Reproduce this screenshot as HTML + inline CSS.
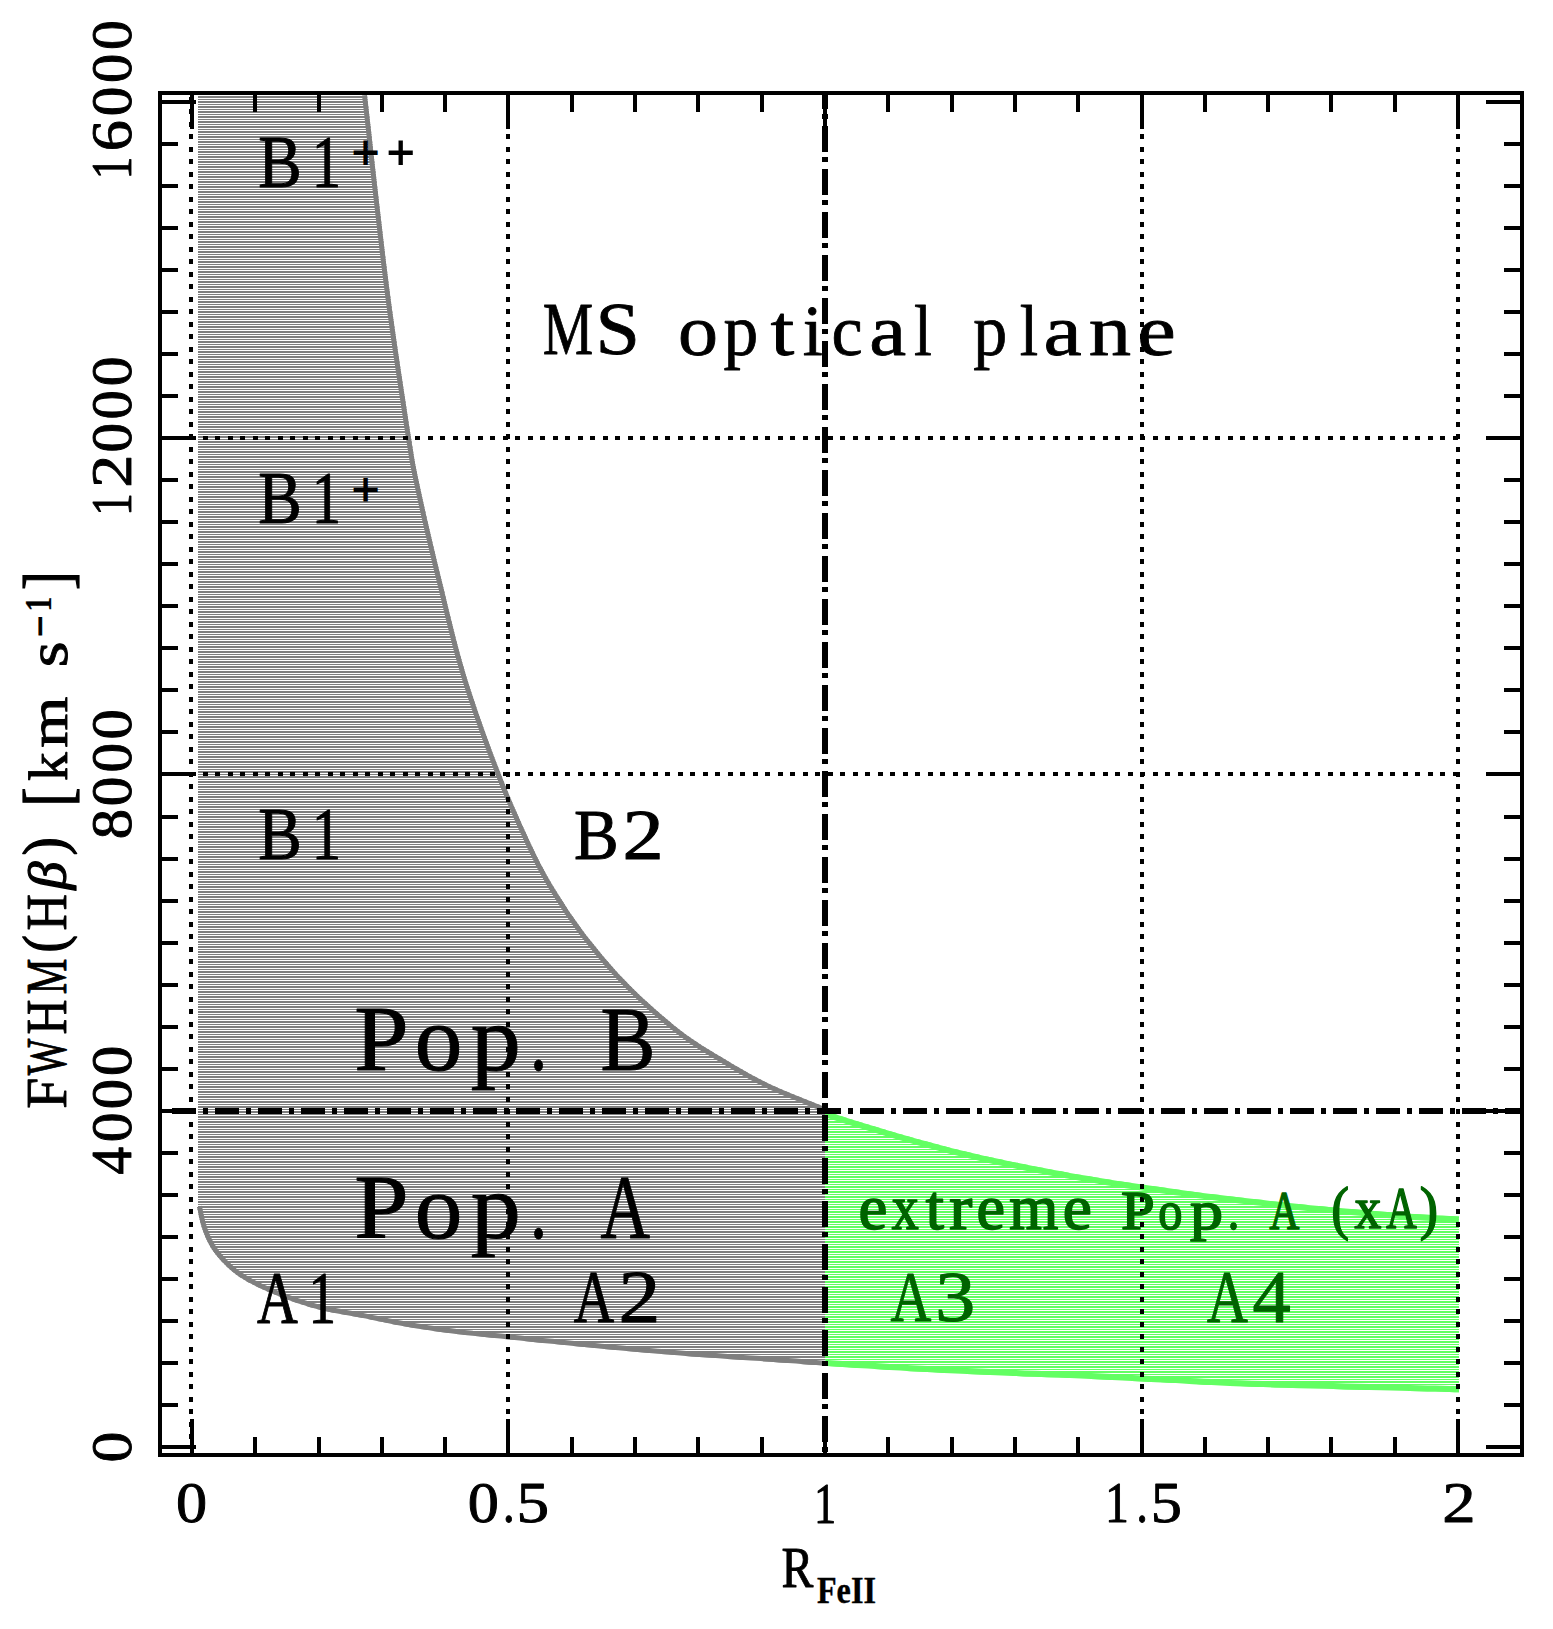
<!DOCTYPE html>
<html lang="en"><head><meta charset="utf-8"><title>MS optical plane</title>
<style>html,body{margin:0;padding:0;background:#fff}svg{display:block}text{font-family:"Liberation Serif","DejaVu Serif",serif;stroke-linejoin:round}</style></head><body>
<svg width="1553" height="1629" viewBox="0 0 1553 1629">
<defs>
<pattern id="hg" x="0" y="96" width="8" height="5" patternUnits="userSpaceOnUse"><rect width="8" height="2" fill="#7f7f7f"/><rect y="3" width="8" height="1" fill="#7f7f7f"/></pattern>
<pattern id="hv" x="0" y="96" width="8" height="5" patternUnits="userSpaceOnUse"><rect width="8" height="2" fill="#62ff62"/><rect y="3" width="8" height="1" fill="#62ff62"/></pattern>
<clipPath id="cg"><polygon points="198.0,95.0 367.0,95.0 368.7,110.0 371.0,130.4 373.6,154.6 376.6,181.3 379.8,209.2 383.0,237.0 386.1,263.2 389.0,286.5 391.8,308.0 394.8,329.5 397.8,350.5 400.8,370.8 403.7,390.0 406.4,407.8 408.8,423.8 411.0,437.7 412.7,448.7 414.0,456.9 415.0,463.0 415.9,467.8 416.8,472.1 417.7,476.7 419.0,482.4 420.6,490.0 422.6,499.2 424.8,509.2 427.2,519.9 429.8,531.1 432.5,542.7 435.3,554.4 438.1,566.3 441.0,578.0 443.9,589.8 446.8,601.9 449.7,614.1 452.8,626.6 455.9,639.1 459.2,651.6 462.7,664.0 466.3,676.4 470.2,688.8 474.4,701.5 478.7,714.2 483.2,726.9 487.7,739.5 492.2,751.7 496.7,763.4 501.0,774.6 505.2,785.3 509.5,795.8 513.8,805.9 518.0,815.6 522.2,825.0 526.2,833.8 530.1,842.2 533.8,850.0 537.2,857.1 540.4,863.4 543.4,869.1 546.3,874.4 549.2,879.5 552.1,884.5 555.2,889.6 558.6,895.0 562.2,900.6 565.8,906.2 569.5,911.9 573.4,917.5 577.3,923.1 581.4,928.7 585.6,934.4 590.0,940.0 594.5,945.6 599.1,951.3 603.8,956.9 608.6,962.6 613.6,968.2 618.7,973.9 624.1,979.6 629.6,985.2 635.4,991.0 641.6,996.9 648.0,1002.8 654.6,1008.7 661.2,1014.5 667.8,1020.1 674.2,1025.4 680.3,1030.3 686.2,1034.7 692.0,1038.8 697.6,1042.6 703.2,1046.2 708.7,1049.6 714.3,1053.0 719.8,1056.3 725.4,1059.6 731.0,1062.9 736.5,1066.2 741.9,1069.3 747.4,1072.4 752.9,1075.5 758.6,1078.5 764.4,1081.4 770.5,1084.4 777.2,1087.5 784.7,1090.7 792.6,1094.0 800.6,1097.2 808.1,1100.3 815.0,1103.0 820.7,1105.3 825.0,1107.0 825.0,1365.8 821.0,1365.5 816.1,1365.1 810.1,1364.7 803.4,1364.2 796.0,1363.6 787.9,1363.1 779.4,1362.4 770.5,1361.8 760.9,1361.1 750.4,1360.4 739.2,1359.7 727.5,1358.9 715.5,1358.1 703.4,1357.2 691.5,1356.4 680.0,1355.5 668.7,1354.6 657.5,1353.7 646.2,1352.7 635.0,1351.7 623.7,1350.7 612.5,1349.7 601.2,1348.7 590.0,1347.6 578.5,1346.5 566.6,1345.3 554.5,1344.1 542.5,1342.9 530.8,1341.7 519.7,1340.5 509.3,1339.5 500.0,1338.5 491.8,1337.7 484.7,1337.0 478.2,1336.3 472.4,1335.8 466.9,1335.2 461.5,1334.6 456.1,1334.0 450.4,1333.3 444.6,1332.5 438.8,1331.8 433.2,1331.0 427.6,1330.1 422.1,1329.3 416.6,1328.4 411.0,1327.5 405.4,1326.5 399.7,1325.5 394.1,1324.4 388.4,1323.3 382.7,1322.1 377.0,1321.0 371.3,1319.8 365.7,1318.6 360.0,1317.5 354.4,1316.4 348.7,1315.4 343.1,1314.4 337.5,1313.4 331.9,1312.4 326.2,1311.2 320.6,1310.0 315.0,1308.5 309.3,1306.9 303.5,1305.1 297.6,1303.2 291.8,1301.2 286.0,1299.1 280.5,1297.0 275.1,1294.8 270.0,1292.7 265.2,1290.6 260.5,1288.5 256.0,1286.3 251.7,1284.1 247.6,1281.9 243.7,1279.6 239.9,1277.2 236.3,1274.7 232.9,1272.1 229.6,1269.3 226.6,1266.5 223.7,1263.6 220.9,1260.7 218.4,1257.8 216.0,1254.9 213.8,1252.0 211.8,1249.2 210.1,1246.4 208.5,1243.6 207.1,1240.8 205.8,1238.0 204.7,1235.2 203.6,1232.4 202.5,1229.6 201.5,1226.6 200.6,1223.4 199.8,1220.1 199.0,1216.9 198.4,1213.8 197.9,1211.1 197.4,1208.7 197.0,1207.0 198.0,1207.0"/></clipPath>
<clipPath id="cv"><polygon points="825.0,1111.0 830.8,1112.8 838.6,1115.2 847.9,1118.2 858.3,1121.4 869.1,1124.7 880.0,1128.1 890.5,1131.2 900.0,1134.0 908.8,1136.5 917.5,1138.9 926.0,1141.3 934.4,1143.5 942.7,1145.7 951.0,1147.9 959.4,1150.0 967.8,1152.0 976.3,1154.0 984.7,1155.9 993.2,1157.8 1001.6,1159.6 1010.1,1161.4 1018.5,1163.1 1027.0,1164.8 1035.4,1166.5 1043.9,1168.1 1052.5,1169.8 1061.2,1171.3 1069.9,1172.9 1078.4,1174.4 1086.8,1175.8 1095.1,1177.2 1103.0,1178.5 1110.6,1179.7 1117.9,1180.9 1125.0,1182.0 1132.0,1183.0 1138.9,1184.0 1145.8,1185.0 1152.8,1186.0 1160.0,1187.0 1167.1,1188.0 1174.1,1189.0 1180.9,1189.9 1187.9,1190.9 1195.1,1191.9 1202.8,1192.9 1211.0,1193.9 1220.0,1195.0 1229.8,1196.2 1240.4,1197.5 1251.6,1198.8 1263.3,1200.1 1275.1,1201.5 1287.0,1202.8 1298.8,1204.0 1310.3,1205.2 1321.8,1206.3 1333.6,1207.4 1345.5,1208.5 1357.4,1209.5 1369.0,1210.5 1380.2,1211.4 1390.7,1212.2 1400.5,1213.0 1409.7,1213.7 1418.7,1214.3 1427.3,1214.8 1435.4,1215.2 1442.7,1215.6 1449.2,1216.0 1454.7,1216.3 1459.0,1216.5 1459.0,1392.3 1454.7,1392.2 1449.2,1392.0 1442.8,1391.8 1435.4,1391.6 1427.4,1391.4 1418.7,1391.2 1409.7,1390.9 1400.5,1390.7 1390.7,1390.5 1380.1,1390.2 1368.9,1390.0 1357.2,1389.7 1345.3,1389.4 1333.3,1389.1 1321.5,1388.8 1310.0,1388.5 1298.5,1388.2 1286.8,1387.8 1274.9,1387.4 1263.1,1387.1 1251.5,1386.7 1240.4,1386.3 1229.8,1385.9 1220.0,1385.5 1211.2,1385.1 1203.3,1384.7 1196.2,1384.3 1189.3,1383.9 1182.6,1383.6 1175.7,1383.1 1168.2,1382.7 1160.0,1382.3 1151.1,1381.9 1141.8,1381.4 1132.1,1380.9 1122.2,1380.4 1112.0,1379.9 1101.6,1379.4 1091.1,1379.0 1080.5,1378.5 1069.7,1378.1 1058.6,1377.6 1047.3,1377.2 1035.9,1376.8 1024.4,1376.4 1012.8,1375.9 1001.4,1375.5 990.0,1375.0 978.6,1374.5 967.1,1374.0 955.6,1373.4 944.0,1372.9 932.6,1372.3 921.4,1371.7 910.5,1371.2 900.0,1370.6 889.4,1370.0 878.4,1369.3 867.5,1368.6 856.9,1367.9 847.0,1367.3 838.1,1366.7 830.7,1366.2 825.0,1365.8"/></clipPath>
</defs>
<rect width="1553" height="1629" fill="#fff"/>
<!-- shaded Pop. A / Pop. B region -->
<g clip-path="url(#cg)"><rect x="190" y="90" width="640" height="1290" fill="url(#hg)" shape-rendering="crispEdges"/>
<polyline points="367.0,95.0 368.7,110.0 371.0,130.4 373.6,154.6 376.6,181.3 379.8,209.2 383.0,237.0 386.1,263.2 389.0,286.5 391.8,308.0 394.8,329.5 397.8,350.5 400.8,370.8 403.7,390.0 406.4,407.8 408.8,423.8 411.0,437.7 412.7,448.7 414.0,456.9 415.0,463.0 415.9,467.8 416.8,472.1 417.7,476.7 419.0,482.4 420.6,490.0 422.6,499.2 424.8,509.2 427.2,519.9 429.8,531.1 432.5,542.7 435.3,554.4 438.1,566.3 441.0,578.0 443.9,589.8 446.8,601.9 449.7,614.1 452.8,626.6 455.9,639.1 459.2,651.6 462.7,664.0 466.3,676.4 470.2,688.8 474.4,701.5 478.7,714.2 483.2,726.9 487.7,739.5 492.2,751.7 496.7,763.4 501.0,774.6 505.2,785.3 509.5,795.8 513.8,805.9 518.0,815.6 522.2,825.0 526.2,833.8 530.1,842.2 533.8,850.0 537.2,857.1 540.4,863.4 543.4,869.1 546.3,874.4 549.2,879.5 552.1,884.5 555.2,889.6 558.6,895.0 562.2,900.6 565.8,906.2 569.5,911.9 573.4,917.5 577.3,923.1 581.4,928.7 585.6,934.4 590.0,940.0 594.5,945.6 599.1,951.3 603.8,956.9 608.6,962.6 613.6,968.2 618.7,973.9 624.1,979.6 629.6,985.2 635.4,991.0 641.6,996.9 648.0,1002.8 654.6,1008.7 661.2,1014.5 667.8,1020.1 674.2,1025.4 680.3,1030.3 686.2,1034.7 692.0,1038.8 697.6,1042.6 703.2,1046.2 708.7,1049.6 714.3,1053.0 719.8,1056.3 725.4,1059.6 731.0,1062.9 736.5,1066.2 741.9,1069.3 747.4,1072.4 752.9,1075.5 758.6,1078.5 764.4,1081.4 770.5,1084.4 777.2,1087.5 784.7,1090.7 792.6,1094.0 800.6,1097.2 808.1,1100.3 815.0,1103.0 820.7,1105.3 825.0,1107.0" fill="none" stroke="#7f7f7f" stroke-width="10"/>
<polyline points="197.0,1207.0 197.4,1208.7 197.9,1211.1 198.4,1213.8 199.0,1216.9 199.8,1220.1 200.6,1223.4 201.5,1226.6 202.5,1229.6 203.6,1232.4 204.7,1235.2 205.8,1238.0 207.1,1240.8 208.5,1243.6 210.1,1246.4 211.8,1249.2 213.8,1252.0 216.0,1254.9 218.4,1257.8 220.9,1260.7 223.7,1263.6 226.6,1266.5 229.6,1269.3 232.9,1272.1 236.3,1274.7 239.9,1277.2 243.7,1279.6 247.6,1281.9 251.7,1284.1 256.0,1286.3 260.5,1288.5 265.2,1290.6 270.0,1292.7 275.1,1294.8 280.5,1297.0 286.0,1299.1 291.8,1301.2 297.6,1303.2 303.5,1305.1 309.3,1306.9 315.0,1308.5 320.6,1310.0 326.2,1311.2 331.9,1312.4 337.5,1313.4 343.1,1314.4 348.7,1315.4 354.4,1316.4 360.0,1317.5 365.7,1318.6 371.3,1319.8 377.0,1321.0 382.7,1322.1 388.4,1323.3 394.1,1324.4 399.7,1325.5 405.4,1326.5 411.0,1327.5 416.6,1328.4 422.1,1329.3 427.6,1330.1 433.2,1331.0 438.8,1331.8 444.6,1332.5 450.4,1333.3 456.1,1334.0 461.5,1334.6 466.9,1335.2 472.4,1335.8 478.2,1336.3 484.7,1337.0 491.8,1337.7 500.0,1338.5 509.3,1339.5 519.7,1340.5 530.8,1341.7 542.5,1342.9 554.5,1344.1 566.6,1345.3 578.5,1346.5 590.0,1347.6 601.2,1348.7 612.5,1349.7 623.7,1350.7 635.0,1351.7 646.2,1352.7 657.5,1353.7 668.7,1354.6 680.0,1355.5 691.5,1356.4 703.4,1357.2 715.5,1358.1 727.5,1358.9 739.2,1359.7 750.4,1360.4 760.9,1361.1 770.5,1361.8 779.4,1362.4 787.9,1363.1 796.0,1363.6 803.4,1364.2 810.1,1364.7 816.1,1365.1 821.0,1365.5 825.0,1365.8" fill="none" stroke="#7f7f7f" stroke-width="10"/></g>
<!-- extreme Pop. A region -->
<g clip-path="url(#cv)"><rect x="820" y="1100" width="645" height="300" fill="url(#hv)" shape-rendering="crispEdges"/>
<polyline points="825.0,1111.0 830.8,1112.8 838.6,1115.2 847.9,1118.2 858.3,1121.4 869.1,1124.7 880.0,1128.1 890.5,1131.2 900.0,1134.0 908.8,1136.5 917.5,1138.9 926.0,1141.3 934.4,1143.5 942.7,1145.7 951.0,1147.9 959.4,1150.0 967.8,1152.0 976.3,1154.0 984.7,1155.9 993.2,1157.8 1001.6,1159.6 1010.1,1161.4 1018.5,1163.1 1027.0,1164.8 1035.4,1166.5 1043.9,1168.1 1052.5,1169.8 1061.2,1171.3 1069.9,1172.9 1078.4,1174.4 1086.8,1175.8 1095.1,1177.2 1103.0,1178.5 1110.6,1179.7 1117.9,1180.9 1125.0,1182.0 1132.0,1183.0 1138.9,1184.0 1145.8,1185.0 1152.8,1186.0 1160.0,1187.0 1167.1,1188.0 1174.1,1189.0 1180.9,1189.9 1187.9,1190.9 1195.1,1191.9 1202.8,1192.9 1211.0,1193.9 1220.0,1195.0 1229.8,1196.2 1240.4,1197.5 1251.6,1198.8 1263.3,1200.1 1275.1,1201.5 1287.0,1202.8 1298.8,1204.0 1310.3,1205.2 1321.8,1206.3 1333.6,1207.4 1345.5,1208.5 1357.4,1209.5 1369.0,1210.5 1380.2,1211.4 1390.7,1212.2 1400.5,1213.0 1409.7,1213.7 1418.7,1214.3 1427.3,1214.8 1435.4,1215.2 1442.7,1215.6 1449.2,1216.0 1454.7,1216.3 1459.0,1216.5" fill="none" stroke="#62ff62" stroke-width="12"/>
<polyline points="825.0,1365.8 830.7,1366.2 838.1,1366.7 847.0,1367.3 856.9,1367.9 867.5,1368.6 878.4,1369.3 889.4,1370.0 900.0,1370.6 910.5,1371.2 921.4,1371.7 932.6,1372.3 944.0,1372.9 955.6,1373.4 967.1,1374.0 978.6,1374.5 990.0,1375.0 1001.4,1375.5 1012.8,1375.9 1024.4,1376.4 1035.9,1376.8 1047.3,1377.2 1058.6,1377.6 1069.7,1378.1 1080.5,1378.5 1091.1,1379.0 1101.6,1379.4 1112.0,1379.9 1122.2,1380.4 1132.1,1380.9 1141.8,1381.4 1151.1,1381.9 1160.0,1382.3 1168.2,1382.7 1175.7,1383.1 1182.6,1383.6 1189.3,1383.9 1196.2,1384.3 1203.3,1384.7 1211.2,1385.1 1220.0,1385.5 1229.8,1385.9 1240.4,1386.3 1251.5,1386.7 1263.1,1387.1 1274.9,1387.4 1286.8,1387.8 1298.5,1388.2 1310.0,1388.5 1321.5,1388.8 1333.3,1389.1 1345.3,1389.4 1357.2,1389.7 1368.9,1390.0 1380.1,1390.2 1390.7,1390.5 1400.5,1390.7 1409.7,1390.9 1418.7,1391.2 1427.4,1391.4 1435.4,1391.6 1442.8,1391.8 1449.2,1392.0 1454.7,1392.2 1459.0,1392.3" fill="none" stroke="#62ff62" stroke-width="12"/></g>
<!-- frame and ticks -->
<g stroke="#000" stroke-width="4" fill="none" shape-rendering="crispEdges">
<rect x="160" y="93" width="1362" height="1362"/>
<path d="M192 1453v-34M192 95v34M255 1453v-16M255 95v17M319 1453v-16M319 95v17M382 1453v-16M382 95v17M445 1453v-16M445 95v17M508 1453v-34M508 95v34M572 1453v-16M572 95v17M635 1453v-16M635 95v17M698 1453v-16M698 95v17M762 1453v-16M762 95v17M825 1453v-34M825 95v34M888 1453v-16M888 95v17M952 1453v-16M952 95v17M1015 1453v-16M1015 95v17M1078 1453v-16M1078 95v17M1142 1453v-34M1142 95v34M1205 1453v-16M1205 95v17M1268 1453v-16M1268 95v17M1331 1453v-16M1331 95v17M1395 1453v-16M1395 95v17M1458 1453v-34M1458 95v34M162 1447h34M1520 1447h-34M162 1405h16M1520 1405h-16M162 1363h16M1520 1363h-16M162 1321h16M1520 1321h-16M162 1279h16M1520 1279h-16M162 1237h16M1520 1237h-16M162 1195h16M1520 1195h-16M162 1153h16M1520 1153h-16M162 1111h34M1520 1111h-34M162 1069h16M1520 1069h-16M162 1027h16M1520 1027h-16M162 985h16M1520 985h-16M162 943h16M1520 943h-16M162 901h16M1520 901h-16M162 859h16M1520 859h-16M162 817h16M1520 817h-16M162 774h34M1520 774h-34M162 732h16M1520 732h-16M162 690h16M1520 690h-16M162 648h16M1520 648h-16M162 606h16M1520 606h-16M162 564h16M1520 564h-16M162 522h16M1520 522h-16M162 480h16M1520 480h-16M162 438h34M1520 438h-34M162 396h16M1520 396h-16M162 354h16M1520 354h-16M162 312h16M1520 312h-16M162 270h16M1520 270h-16M162 228h16M1520 228h-16M162 186h16M1520 186h-16M162 144h16M1520 144h-16M162 102h34M1520 102h-34"/>
</g>
<!-- dotted grid -->
<g stroke="#000" stroke-width="4" fill="none" stroke-dasharray="5 7.5" shape-rendering="crispEdges">
<path d="M191 96.5V1447"/>
<path d="M508 96.5V1447"/>
<path d="M1142 96.5V1447"/>
<path d="M1458 96.5V1447"/>
<path d="M190 774H1458"/>
<path d="M190 438H1458"/>
</g>
<!-- dash-dot population boundaries -->
<g stroke="#000" stroke-width="6" fill="none" stroke-dasharray="23.5 7.5 5 7" shape-rendering="crispEdges">
<path d="M172 1111H1520"/>
<path d="M825 95V1453" stroke-dasharray="26.5 4.5 5 7" stroke-dashoffset="12.1"/>
</g>
<!-- labels -->
<text fill="#000" stroke="#000"><tspan x="258.30" y="186.65" font-size="74.78" stroke-width="1.00" textLength="43.47" lengthAdjust="spacingAndGlyphs">B</tspan><tspan x="311.81" y="186.65" font-size="74.78" stroke-width="1.00" textLength="29.31" lengthAdjust="spacingAndGlyphs">1</tspan><tspan x="352.21" y="168.55" font-size="48.51" stroke-width="2.00" stroke-linejoin="miter" textLength="26.67" lengthAdjust="spacingAndGlyphs">+</tspan><tspan x="387.19" y="168.55" font-size="48.51" stroke-width="2.00" stroke-linejoin="miter" textLength="26.91" lengthAdjust="spacingAndGlyphs">+</tspan></text>
<text fill="#000" stroke="#000"><tspan x="258.30" y="522.76" font-size="73.58" stroke-width="1.00" textLength="43.47" lengthAdjust="spacingAndGlyphs">B</tspan><tspan x="311.81" y="522.76" font-size="73.58" stroke-width="1.00" textLength="29.31" lengthAdjust="spacingAndGlyphs">1</tspan><tspan x="352.21" y="505.02" font-size="47.23" stroke-width="2.00" stroke-linejoin="miter" textLength="26.67" lengthAdjust="spacingAndGlyphs">+</tspan></text>
<text fill="#000" stroke="#000"><tspan x="258.30" y="858.77" font-size="73.13" stroke-width="1.00" textLength="43.47" lengthAdjust="spacingAndGlyphs">B</tspan><tspan x="311.81" y="858.77" font-size="73.13" stroke-width="1.00" textLength="29.31" lengthAdjust="spacingAndGlyphs">1</tspan></text>
<text fill="#000" stroke="#000"><tspan x="573.96" y="858.78" font-size="72.39" stroke-width="1.00" textLength="44.69" lengthAdjust="spacingAndGlyphs">B</tspan><tspan x="622.60" y="858.78" font-size="72.39" stroke-width="1.00" textLength="41.22" lengthAdjust="spacingAndGlyphs">2</tspan></text>
<text fill="#000" stroke="#000"><tspan x="257.10" y="1322.50" font-size="74.85" stroke-width="1.00" textLength="40.82" lengthAdjust="spacingAndGlyphs">A</tspan><tspan x="308.60" y="1322.50" font-size="74.85" stroke-width="1.00" textLength="27.50" lengthAdjust="spacingAndGlyphs">1</tspan></text>
<text fill="#000" stroke="#000"><tspan x="573.70" y="1321.76" font-size="73.73" stroke-width="1.00" textLength="40.42" lengthAdjust="spacingAndGlyphs">A</tspan><tspan x="618.45" y="1321.76" font-size="73.73" stroke-width="1.00" textLength="41.83" lengthAdjust="spacingAndGlyphs">2</tspan></text>
<text fill="#006400" stroke="#006400"><tspan x="890.50" y="1321.05" font-size="72.65" stroke-width="1.00" textLength="40.82" lengthAdjust="spacingAndGlyphs">A</tspan><tspan x="935.30" y="1321.05" font-size="72.65" stroke-width="1.00" textLength="40.00" lengthAdjust="spacingAndGlyphs">3</tspan></text>
<text fill="#006400" stroke="#006400"><tspan x="1207.10" y="1321.76" font-size="73.73" stroke-width="1.00" textLength="40.82" lengthAdjust="spacingAndGlyphs">A</tspan><tspan x="1252.54" y="1321.76" font-size="73.73" stroke-width="1.00" textLength="38.23" lengthAdjust="spacingAndGlyphs">4</tspan></text>
<text fill="#000" stroke="#000"><tspan x="542.76" y="354.42" font-size="73.82" stroke-width="0.80" textLength="50.49" lengthAdjust="spacingAndGlyphs">M</tspan><tspan x="595.50" y="354.42" font-size="73.82" stroke-width="0.80" textLength="44.49" lengthAdjust="spacingAndGlyphs">S</tspan> <tspan x="677.90" y="355.07" font-size="71.56" stroke-width="0.80" textLength="40.00" lengthAdjust="spacingAndGlyphs">o</tspan><tspan x="723.51" y="355.07" font-size="71.56" stroke-width="0.80" textLength="34.67" lengthAdjust="spacingAndGlyphs">p</tspan><tspan x="770.40" y="355.07" font-size="71.56" stroke-width="0.80" textLength="23.81" lengthAdjust="spacingAndGlyphs">t</tspan><tspan x="802.76" y="355.07" font-size="71.56" stroke-width="0.80" textLength="20.03" lengthAdjust="spacingAndGlyphs">i</tspan><tspan x="831.39" y="355.07" font-size="71.56" stroke-width="0.80" textLength="31.18" lengthAdjust="spacingAndGlyphs">c</tspan><tspan x="869.30" y="355.07" font-size="71.56" stroke-width="0.80" textLength="36.92" lengthAdjust="spacingAndGlyphs">a</tspan><tspan x="914.02" y="355.07" font-size="71.56" stroke-width="0.80" textLength="17.83" lengthAdjust="spacingAndGlyphs">l</tspan> <tspan x="973.22" y="355.07" font-size="71.56" stroke-width="0.80" textLength="33.91" lengthAdjust="spacingAndGlyphs">p</tspan><tspan x="1019.87" y="355.07" font-size="71.56" stroke-width="0.80" textLength="18.41" lengthAdjust="spacingAndGlyphs">l</tspan><tspan x="1043.42" y="355.07" font-size="71.56" stroke-width="0.80" textLength="38.21" lengthAdjust="spacingAndGlyphs">a</tspan><tspan x="1088.71" y="355.07" font-size="71.56" stroke-width="0.80" textLength="42.34" lengthAdjust="spacingAndGlyphs">n</tspan><tspan x="1137.39" y="355.07" font-size="71.56" stroke-width="0.80" textLength="38.54" lengthAdjust="spacingAndGlyphs">e</tspan></text>
<text fill="#000" stroke="#000"><tspan x="354.34" y="1069.74" font-size="92.21" stroke-width="1.00" textLength="54.39" lengthAdjust="spacingAndGlyphs">P</tspan><tspan x="414.74" y="1069.74" font-size="92.21" stroke-width="1.00" textLength="47.61" lengthAdjust="spacingAndGlyphs">o</tspan><tspan x="470.80" y="1069.74" font-size="92.21" stroke-width="1.00" textLength="50.11" lengthAdjust="spacingAndGlyphs">p</tspan><tspan x="530.09" y="1069.74" font-size="92.21" stroke-width="1.00" textLength="17.12" lengthAdjust="spacingAndGlyphs">.</tspan> <tspan x="600.45" y="1069.58" font-size="91.97" stroke-width="1.00" textLength="54.92" lengthAdjust="spacingAndGlyphs">B</tspan></text>
<text fill="#000" stroke="#000"><tspan x="354.34" y="1237.81" font-size="91.86" stroke-width="1.00" textLength="54.39" lengthAdjust="spacingAndGlyphs">P</tspan><tspan x="414.74" y="1237.81" font-size="91.86" stroke-width="1.00" textLength="47.61" lengthAdjust="spacingAndGlyphs">o</tspan><tspan x="470.80" y="1237.81" font-size="91.86" stroke-width="1.00" textLength="50.11" lengthAdjust="spacingAndGlyphs">p</tspan><tspan x="530.09" y="1237.81" font-size="91.86" stroke-width="1.00" textLength="17.12" lengthAdjust="spacingAndGlyphs">.</tspan> <tspan x="600.60" y="1238.40" font-size="91.36" stroke-width="1.00" textLength="49.45" lengthAdjust="spacingAndGlyphs">A</tspan></text>
<text fill="#006400" stroke="#006400"><tspan x="858.45" y="1228.97" font-size="62.81" stroke-width="1.60" textLength="28.85" lengthAdjust="spacingAndGlyphs">e</tspan><tspan x="891.70" y="1228.97" font-size="62.81" stroke-width="1.60" textLength="26.94" lengthAdjust="spacingAndGlyphs">x</tspan><tspan x="925.70" y="1228.97" font-size="62.81" stroke-width="1.60" textLength="18.16" lengthAdjust="spacingAndGlyphs">t</tspan><tspan x="949.22" y="1228.97" font-size="62.81" stroke-width="1.60" textLength="22.99" lengthAdjust="spacingAndGlyphs">r</tspan><tspan x="976.57" y="1228.97" font-size="62.81" stroke-width="1.60" textLength="28.50" lengthAdjust="spacingAndGlyphs">e</tspan><tspan x="1009.24" y="1228.97" font-size="62.81" stroke-width="1.60" textLength="49.06" lengthAdjust="spacingAndGlyphs">m</tspan><tspan x="1062.83" y="1228.97" font-size="62.81" stroke-width="1.60" textLength="29.08" lengthAdjust="spacingAndGlyphs">e</tspan> <tspan x="1121.09" y="1229.00" font-size="55.70" stroke-width="1.60" textLength="33.70" lengthAdjust="spacingAndGlyphs">P</tspan><tspan x="1158.35" y="1229.00" font-size="55.70" stroke-width="1.60" textLength="24.20" lengthAdjust="spacingAndGlyphs">o</tspan><tspan x="1190.04" y="1229.00" font-size="55.70" stroke-width="1.60" textLength="33.04" lengthAdjust="spacingAndGlyphs">p</tspan><tspan x="1227.83" y="1229.00" font-size="55.70" stroke-width="1.60" textLength="11.54" lengthAdjust="spacingAndGlyphs">.</tspan> <tspan x="1269.60" y="1229.10" font-size="54.24" stroke-width="1.60" textLength="29.79" lengthAdjust="spacingAndGlyphs">A</tspan> <tspan x="1331.27" y="1227.57" font-size="59.67" stroke-width="1.60" textLength="17.76" lengthAdjust="spacingAndGlyphs">(</tspan><tspan x="1354.40" y="1227.57" font-size="59.67" stroke-width="1.60" textLength="26.84" lengthAdjust="spacingAndGlyphs">x</tspan><tspan x="1386.30" y="1227.57" font-size="59.67" stroke-width="1.60" textLength="30.49" lengthAdjust="spacingAndGlyphs">A</tspan><tspan x="1419.65" y="1227.57" font-size="59.67" stroke-width="1.60" textLength="18.32" lengthAdjust="spacingAndGlyphs">)</tspan></text>
<text fill="#000" stroke="#000"><tspan x="176.08" y="1521.71" font-size="56.91" stroke-width="0.90" textLength="31.14" lengthAdjust="spacingAndGlyphs">0</tspan></text>
<text fill="#000" stroke="#000"><tspan x="467.68" y="1521.71" font-size="56.91" stroke-width="0.90" textLength="31.14" lengthAdjust="spacingAndGlyphs">0</tspan><tspan x="502.64" y="1521.71" font-size="56.91" stroke-width="0.90" textLength="12.12" lengthAdjust="spacingAndGlyphs">.</tspan><tspan x="516.49" y="1521.71" font-size="56.91" stroke-width="0.90" textLength="32.62" lengthAdjust="spacingAndGlyphs">5</tspan></text>
<text fill="#000" stroke="#000"><tspan x="813.99" y="1522.55" font-size="57.88" stroke-width="0.90" textLength="22.22" lengthAdjust="spacingAndGlyphs">1</tspan></text>
<text fill="#000" stroke="#000"><tspan x="1104.93" y="1521.71" font-size="56.91" stroke-width="0.90" textLength="23.89" lengthAdjust="spacingAndGlyphs">1</tspan><tspan x="1136.33" y="1521.71" font-size="56.91" stroke-width="0.90" textLength="11.73" lengthAdjust="spacingAndGlyphs">.</tspan><tspan x="1150.73" y="1521.71" font-size="56.91" stroke-width="0.90" textLength="31.19" lengthAdjust="spacingAndGlyphs">5</tspan></text>
<text fill="#000" stroke="#000"><tspan x="1442.28" y="1521.98" font-size="57.31" stroke-width="0.90" textLength="33.41" lengthAdjust="spacingAndGlyphs">2</tspan></text>
<text fill="#000" stroke="#000"><tspan x="781.50" y="1586.97" font-size="57.73" stroke-width="0.90" textLength="31.81" lengthAdjust="spacingAndGlyphs">R</tspan><tspan x="816.98" y="1603.43" font-size="37.12" stroke-width="0.40" font-weight="bold" textLength="58.96" lengthAdjust="spacingAndGlyphs">FeII</tspan></text>
<text transform="rotate(-90)" fill="#000" stroke="#000"><tspan x="-179.35" y="130.71" font-size="56.76" stroke-width="0.90" textLength="22.50" lengthAdjust="spacingAndGlyphs">1</tspan><tspan x="-151.23" y="130.71" font-size="56.76" stroke-width="0.90" textLength="31.02" lengthAdjust="spacingAndGlyphs">6</tspan><tspan x="-116.23" y="130.71" font-size="56.76" stroke-width="0.90" textLength="29.66" lengthAdjust="spacingAndGlyphs">0</tspan><tspan x="-83.11" y="130.71" font-size="56.76" stroke-width="0.90" textLength="29.32" lengthAdjust="spacingAndGlyphs">0</tspan><tspan x="-50.04" y="130.71" font-size="56.76" stroke-width="0.90" textLength="29.77" lengthAdjust="spacingAndGlyphs">0</tspan></text>
<text transform="rotate(-90)" fill="#000" stroke="#000"><tspan x="-515.65" y="130.71" font-size="56.76" stroke-width="0.90" textLength="22.50" lengthAdjust="spacingAndGlyphs">1</tspan><tspan x="-487.69" y="130.71" font-size="56.76" stroke-width="0.90" textLength="33.05" lengthAdjust="spacingAndGlyphs">2</tspan><tspan x="-452.53" y="130.71" font-size="56.76" stroke-width="0.90" textLength="29.66" lengthAdjust="spacingAndGlyphs">0</tspan><tspan x="-419.41" y="130.71" font-size="56.76" stroke-width="0.90" textLength="29.32" lengthAdjust="spacingAndGlyphs">0</tspan><tspan x="-386.34" y="130.71" font-size="56.76" stroke-width="0.90" textLength="29.77" lengthAdjust="spacingAndGlyphs">0</tspan></text>
<text transform="rotate(-90)" fill="#000" stroke="#000"><tspan x="-839.37" y="130.71" font-size="56.76" stroke-width="0.90" textLength="30.34" lengthAdjust="spacingAndGlyphs">8</tspan><tspan x="-806.23" y="130.71" font-size="56.76" stroke-width="0.90" textLength="29.66" lengthAdjust="spacingAndGlyphs">0</tspan><tspan x="-772.43" y="130.71" font-size="56.76" stroke-width="0.90" textLength="29.66" lengthAdjust="spacingAndGlyphs">0</tspan><tspan x="-739.56" y="130.71" font-size="56.76" stroke-width="0.90" textLength="30.23" lengthAdjust="spacingAndGlyphs">0</tspan></text>
<text transform="rotate(-90)" fill="#000" stroke="#000"><tspan x="-1174.81" y="130.71" font-size="56.76" stroke-width="0.90" textLength="27.81" lengthAdjust="spacingAndGlyphs">4</tspan><tspan x="-1142.34" y="130.71" font-size="56.76" stroke-width="0.90" textLength="29.77" lengthAdjust="spacingAndGlyphs">0</tspan><tspan x="-1109.17" y="130.71" font-size="56.76" stroke-width="0.90" textLength="30.34" lengthAdjust="spacingAndGlyphs">0</tspan><tspan x="-1076.07" y="130.71" font-size="56.76" stroke-width="0.90" textLength="30.34" lengthAdjust="spacingAndGlyphs">0</tspan></text>
<text transform="rotate(-90)" fill="#000" stroke="#000"><tspan x="-1462.40" y="130.71" font-size="56.76" stroke-width="0.90" textLength="30.80" lengthAdjust="spacingAndGlyphs">0</tspan></text>
<text transform="rotate(-90)" fill="#000" stroke="#000"><tspan x="-1108.77" y="65.61" font-size="57.16" stroke-width="0.90" textLength="31.14" lengthAdjust="spacingAndGlyphs">F</tspan><tspan x="-1075.35" y="65.61" font-size="57.16" stroke-width="0.90" textLength="36.46" lengthAdjust="spacingAndGlyphs">W</tspan><tspan x="-1034.52" y="65.61" font-size="57.16" stroke-width="0.90" textLength="35.05" lengthAdjust="spacingAndGlyphs">H</tspan><tspan x="-994.15" y="65.61" font-size="57.16" stroke-width="0.90" textLength="35.67" lengthAdjust="spacingAndGlyphs">M</tspan><tspan x="-952.57" y="64.30" font-size="60.00" stroke-width="1.40" textLength="17.27" lengthAdjust="spacingAndGlyphs">(</tspan><tspan x="-930.56" y="66.17" font-size="58.03" stroke-width="0.90" textLength="36.43" lengthAdjust="spacingAndGlyphs">H</tspan><tspan x="-889.47" y="65.42" font-size="52.75" stroke-width="1.20" font-style="italic" textLength="28.06" lengthAdjust="spacingAndGlyphs">β</tspan><tspan x="-855.22" y="64.30" font-size="60.00" stroke-width="1.40" textLength="17.93" lengthAdjust="spacingAndGlyphs">)</tspan> <tspan x="-806.52" y="69.57" font-size="68.67" stroke-width="1.20" stroke-linejoin="miter" textLength="19.11" lengthAdjust="spacingAndGlyphs">[</tspan><tspan x="-781.12" y="66.75" font-size="55.65" stroke-width="0.90" textLength="28.67" lengthAdjust="spacingAndGlyphs">k</tspan><tspan x="-747.86" y="66.75" font-size="55.65" stroke-width="0.90" textLength="51.13" lengthAdjust="spacingAndGlyphs">m</tspan> <tspan x="-667.20" y="66.59" font-size="56.25" stroke-width="0.90" textLength="25.78" lengthAdjust="spacingAndGlyphs">s</tspan><tspan x="-636.90" y="56.50" font-size="50.00" stroke-width="1.20" stroke-linejoin="miter" textLength="21.15" lengthAdjust="spacingAndGlyphs">−</tspan><tspan x="-611.38" y="51.00" font-size="37.73" stroke-width="0.20" font-weight="bold" textLength="14.86" lengthAdjust="spacingAndGlyphs">1</tspan><tspan x="-590.08" y="69.57" font-size="68.67" stroke-width="1.20" stroke-linejoin="miter" textLength="18.68" lengthAdjust="spacingAndGlyphs">]</tspan></text>
</svg></body></html>
